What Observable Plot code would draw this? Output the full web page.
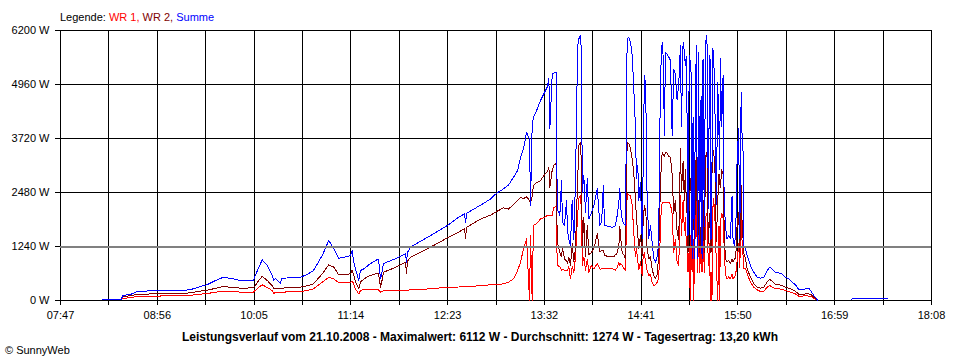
<!DOCTYPE html>
<html>
<head>
<meta charset="utf-8">
<script src="https://cdn.jsdelivr.net/npm/d3@7"></script>
<script src="https://cdn.jsdelivr.net/npm/@observablehq/plot@0.6"></script>
<style>
  html, body { margin: 0; padding: 0; background: #fff; }
  body { width: 960px; height: 360px; overflow: hidden; font-family: "Liberation Sans", Arial, sans-serif; font-size: 11px; color: #000; }
  #legend { height: 24px; box-sizing: border-box; padding: 10px 0 0 60px; line-height: 14px; }
  #chart svg { display: block; }
  #caption { height: 14px; line-height: 14px; text-align: center; font-weight: bold; font-size: 12px; }
  #copy { height: 16px; line-height: 12px; padding-left: 5px; }
</style>
</head>
<body>
<div id="legend"></div>
<div id="chart"></div>
<div id="caption"></div>
<div id="copy"></div>
<script>
// ---- data ----
const seriesNames = ["WR 1", "WR 2", "Summe"];
const seriesColors = ["#ff0000", "#800000", "#0000ff"];
const xTickLabels = ["07:47","08:56","10:05","11:14","12:23","13:32","14:41","15:50","16:59","18:08"];
const yTicks = [0, 1240, 2480, 3720, 4960, 6200];
const highlightLevel = 1240;
const captionText = "Leistungsverlauf vom 21.10.2008 - Maximalwert: 6112 W - Durchschnitt: 1274 W - Tagesertrag: 13,20 kWh";
const copyText = "© SunnyWeb";

// time in minutes since midnight
const times = [
  497.0, 510.5, 511.2, 516.9, 521.9, 531.2, 538.3, 547.6, 554.7, 559.7,
  564.7, 571.8, 577.5, 583.2, 589.6, 595.3, 604.6, 608.2, 610.8, 614.4,
  617.9, 619.1, 620.3, 623.9, 624.6, 631.0, 638.1, 643.1, 647.4, 653.6,
  658.3, 661.9, 665.4, 670.2, 673.8, 675.0, 675.9, 677.3, 679.7, 680.9,
  683.3, 686.8, 691.6, 693.7, 695.2, 695.9, 697.3, 705.8, 713.0, 713.7,
  714.4, 716.5, 730.8, 742.9, 750.8, 755.1, 755.8, 756.5, 766.5, 773.6,
  777.9, 782.9, 786.4, 790.0, 792.9, 795.0, 797.1, 799.3, 801.4, 802.1,
  803.3, 804.2, 806.9, 809.2, 811.6, 814.0, 815.2, 815.9, 817.6, 818.7,
  820.3, 821.2, 823.0, 824.2, 824.9, 826.3, 827.8, 828.5, 829.4, 830.6,
  831.8, 833.0, 834.2, 835.1, 835.6, 836.5, 837.8, 838.5, 839.0, 840.1,
  841.3, 842.6, 843.7, 845.4, 847.3, 849.7, 851.6, 852.8, 854.0, 854.9,
  857.8, 860.6, 862.7, 863.9, 865.1, 865.8, 866.5, 867.5, 868.6, 869.8,
  871.0, 872.2, 873.4, 874.6, 875.7, 876.9, 877.6, 878.6, 879.3, 880.5,
  881.7, 882.4, 883.3, 884.0, 884.8, 885.2, 886.4, 887.6, 888.8, 890.0,
  891.2, 892.4, 893.5, 894.2, 895.2, 896.0, 896.7, 897.6, 898.3, 899.5,
  900.7, 901.9, 903.1, 904.2, 905.4, 906.6, 907.8, 909.0, 909.7, 910.9,
  911.8, 912.5, 913.2, 913.7, 914.4, 915.3, 916.0, 916.5, 917.3, 918.0,
  918.4, 918.9, 919.6, 920.3, 921.3, 922.0, 922.7, 923.7, 924.4, 925.1,
  926.0, 926.9, 927.9, 928.9, 929.8, 930.3, 930.8, 931.5, 931.8, 932.7,
  933.7, 934.6, 935.6, 936.5, 937.0, 937.5, 938.4, 939.4, 940.1, 941.0,
  942.2, 943.4, 944.6, 945.8, 946.5, 947.4, 948.4, 949.4, 950.5, 951.3,
  952.3, 953.0, 953.7, 954.1, 955.4, 956.6, 958.9, 961.3, 963.7, 966.1,
  968.4, 970.8, 972.7, 974.4, 976.8, 979.1, 981.5, 983.9, 986.3, 988.7,
  991.0, 993.4, 995.8, 998.2, 1000.5, 1002.2, 1004.1, 1006.0, 1007.0, 1008.0,
  1031.0, 1032.0, 1036.0, 1037.0, 1057.0
];

// WR 1 (W)
const wr1 = [
  null, null, 40, 70, 92, 100, 103, 105, 115, 120,
  138, 161, 190, 214, 210, 191, 195, 300, 360, 298,
  230, 153, 191, 191, 191, 200, 207, 230, 268, 421,
  535, 497, 406, 410, 421, 440, 400, 260, 153, 230,
  260, 260, 245, 245, 191, 200, 230, 235, 230, 230,
  235, 245, 268, 306, 310, 320, 320, 320, 340, 360,
  367, 383, 420, 497, 689, 880, 1186, 1416, 0, 1500,
  0, 1722, 1780, 1876, 1900, 1952, 1950, 1950, 1960, 2143,
  2150, 804, 780, 700, 720, 689, 700, 689, 780, 497,
  780, 650, 1000, 1600, 1900, 2335, 2411, 2000, 804, 1000,
  700, 950, 650, 800, 720, 850, 720, 727, 727, 727,
  727, 727, 700, 760, 880, 800, 850, 800, 740, 700,
  2449, 2420, 2400, 2200, 1569, 1000, 1200, 900, 700, 900,
  574, 1000, 1100, 900, 800, 700, 574, 600, 421, 344,
  360, 420, 500, 1100, 2000, 2257, 2250, 2240, 2257, 2257,
  2257, 2200, 2000, 1100, 1400, 900, 800, 2411, 1500, 2300,
  1600, 1900, 1300, 1200, 650, 1200, 0, 1500, 650, 1400,
  0, 650, 1700, 2335, 650, 1700, 650, 1400, 650, 1800,
  650, 1900, 2000, 800, 1300, 0, 650, 0, 2000, 2335,
  1800, 850, 0, 1700, 0, 1800, 2000, 1900, 1300, 612,
  497, 540, 497, 600, 497, 540, 600, 900, 1300, 750,
  2028, 1300, 1000, 727, 727, 612, 421, 306, 245, 207,
  207, 306, 344, 306, 268, 268, 260, 230, 207, 176,
  150, 100, 100, 110, 100, 90, 54, 15, 0, null,
  null, null, null, null, null
];

// WR 2 (W)
const wr2 = [
  null, null, 80, 115, 138, 150, 154, 160, 168, 175,
  207, 237, 280, 321, 300, 283, 290, 450, 558, 459,
  344, 268, 283, 283, 283, 295, 306, 340, 383, 612,
  819, 765, 589, 600, 612, 700, 600, 420, 268, 420,
  497, 558, 612, 630, 306, 400, 650, 760, 880, 620,
  900, 995, 1224, 1440, 1569, 1650, 1420, 1680, 1870, 1960,
  2043, 2128, 2100, 2204, 2300, 2365, 2340, 2380, 2300, 2250,
  2400, 2640, 2717, 2750, 2870, 2950, 3061, 2600, 3000, 3100,
  3150, 1339, 1109, 1000, 1200, 957, 900, 850, 1000, 804,
  1300, 900, 1200, 2200, 2600, 3559, 3635, 3000, 1231, 1900,
  1000, 1722, 1050, 1100, 1186, 1531, 1109, 1150, 1148, 1033,
  1010, 1000, 1033, 1100, 1263, 1700, 1400, 1100, 1050, 957,
  3635, 3600, 3482, 3253, 2946, 2335, 1900, 1500, 1200, 1500,
  1033, 1800, 2181, 2100, 1800, 1200, 957, 1000, 727, 574,
  497, 600, 1033, 2028, 3000, 3406, 3350, 3300, 3406, 3380,
  3300, 3291, 2900, 2000, 2300, 1600, 1400, 3482, 2500, 3200,
  2300, 3000, 2200, 2000, 1100, 2300, 2600, 2800, 1100, 2000,
  2300, 1100, 2300, 3559, 1100, 2300, 1100, 1700, 1100, 2300,
  1100, 3300, 3406, 1300, 2000, 1800, 1100, 2900, 3444, 3444,
  2900, 1350, 2300, 2900, 2700, 2600, 3000, 2900, 1800, 957,
  880, 920, 850, 957, 880, 957, 957, 1722, 2028, 1100,
  2640, 1722, 1400, 1100, 957, 727, 535, 383, 306, 283,
  306, 421, 482, 440, 367, 367, 344, 306, 283, 253,
  207, 145, 145, 150, 150, 130, 77, 20, 0, null,
  null, null, null, null, null
];

// Summe (W)
const summe = [
  20, 20, 115, 140, 207, 222, 230, 235, 230, 250,
  300, 367, 459, 535, 500, 459, 470, 750, 934, 804,
  574, 459, 512, 383, 512, 520, 535, 600, 689, 1033,
  1378, 1186, 972, 1000, 1033, 1148, 900, 727, 459, 689,
  727, 819, 918, 950, 497, 600, 849, 960, 1071, 880,
  1100, 1224, 1492, 1722, 1913, 1990, 1780, 2000, 2190, 2330,
  2464, 2564, 2650, 2830, 2985, 3290, 3480, 3865, 3700, 2181,
  4018, 4200, 4400, 4592, 4745, 4898, 5090, 3949, 5205, 5220,
  5243, 2105, 1952, 2755, 1800, 1722, 2300, 1600, 1416, 1263,
  2300, 1400, 2800, 4500, 5800, 6007, 6084, 5600, 2487, 2870,
  2028, 2794, 1876, 2000, 2181, 2572, 1722, 1800, 2640, 1722,
  1700, 1676, 1722, 1952, 2257, 2572, 2100, 1850, 1760, 1722,
  6007, 6046, 5932, 5626, 4898, 4018, 2800, 3100, 2300, 2717,
  1416, 3023, 5166, 5000, 3800, 2411, 1423, 1722, 1339, 957,
  880, 1000, 1339, 3788, 5500, 5932, 5587, 3788, 5702, 5650,
  5587, 5510, 3788, 5300, 5205, 4600, 4975, 5855, 4000, 5932,
  5700, 5400, 5600, 4300, 1492, 5626, 5500, 5450, 957, 4200,
  3000, 957, 4400, 5855, 957, 5700, 1400, 4700, 957, 5549,
  1700, 5932, 6084, 2100, 5626, 5500, 1400, 3000, 5779, 5700,
  4200, 2200, 5000, 3800, 3000, 5549, 4000, 5166, 2500, 1722,
  1416, 1500, 1416, 2400, 1416, 1263, 1500, 3253, 3942, 1416,
  4783, 3700, 3400, 1263, 1186, 1033, 804, 650, 535, 512,
  535, 689, 765, 720, 635, 635, 612, 535, 500, 421,
  360, 253, 253, 268, 280, 207, 115, 38, 0, null,
  30, 55, 55, 35, 35
];

// ---- build ----
const toMin = s => { const [h, m] = s.split(":").map(Number); return h * 60 + m; };
const labelTimes = xTickLabels.map(toMin);
const gridTimes = [];
labelTimes.forEach((t, i) => {
  gridTimes.push(t);
  if (i < labelTimes.length - 1) gridTimes.push((t + labelTimes[i + 1]) / 2);
});
const labelMap = new Map(labelTimes.map((t, i) => [t, xTickLabels[i]]));

const valueArrays = [wr1, wr2, summe];
const rows = [];
valueArrays.forEach((arr, s) => {
  times.forEach((t, i) => rows.push({ t, v: arr[i], s: seriesNames[s] }));
});

// legend
const legend = document.getElementById("legend");
legend.append("Legende: ");
seriesNames.forEach((n, i) => {
  const sp = document.createElement("span");
  sp.style.color = seriesColors[i];
  sp.textContent = n + (i < seriesNames.length - 1 ? ", " : "");
  legend.append(sp);
});
document.getElementById("caption").textContent = captionText;
document.getElementById("copy").textContent = copyText;

const chart = Plot.plot({
  width: 960,
  height: 306,
  marginTop: 6,
  marginBottom: 30,
  marginLeft: 60,
  marginRight: 29,
  style: { fontFamily: "Liberation Sans, Arial, sans-serif", fontSize: "11px", color: "#000", background: "#fff" },
  x: { domain: [labelTimes[0], labelTimes[labelTimes.length - 1]] },
  y: { domain: [yTicks[0], yTicks[yTicks.length - 1]] },
  marks: [
    Plot.ruleX(gridTimes, { stroke: "#000", strokeWidth: 1, shapeRendering: "crispEdges" }),
    Plot.ruleY(yTicks.filter(d => d !== highlightLevel), { stroke: "#000", strokeWidth: 1, shapeRendering: "crispEdges" }),
    ...seriesNames.map((n, i) =>
      Plot.line(rows.filter(r => r.s === n), { x: "t", y: "v", stroke: seriesColors[i], strokeWidth: 1, shapeRendering: "crispEdges" })
    ),
    Plot.ruleY([highlightLevel], { stroke: "#808080", strokeWidth: 2, shapeRendering: "crispEdges" }),
    Plot.axisX({
      ticks: gridTimes, tickSize: 5, tickPadding: 6, shapeRendering: "crispEdges",
      tickFormat: d => labelMap.get(d) ?? "", label: null, stroke: "#000"
    }),
    Plot.axisY({
      ticks: yTicks, tickSize: 5, tickPadding: 6, shapeRendering: "crispEdges",
      tickFormat: d => d + " W", label: null, stroke: "#000"
    })
  ]
});
document.getElementById("chart").append(chart);
</script>
</body>
</html>
